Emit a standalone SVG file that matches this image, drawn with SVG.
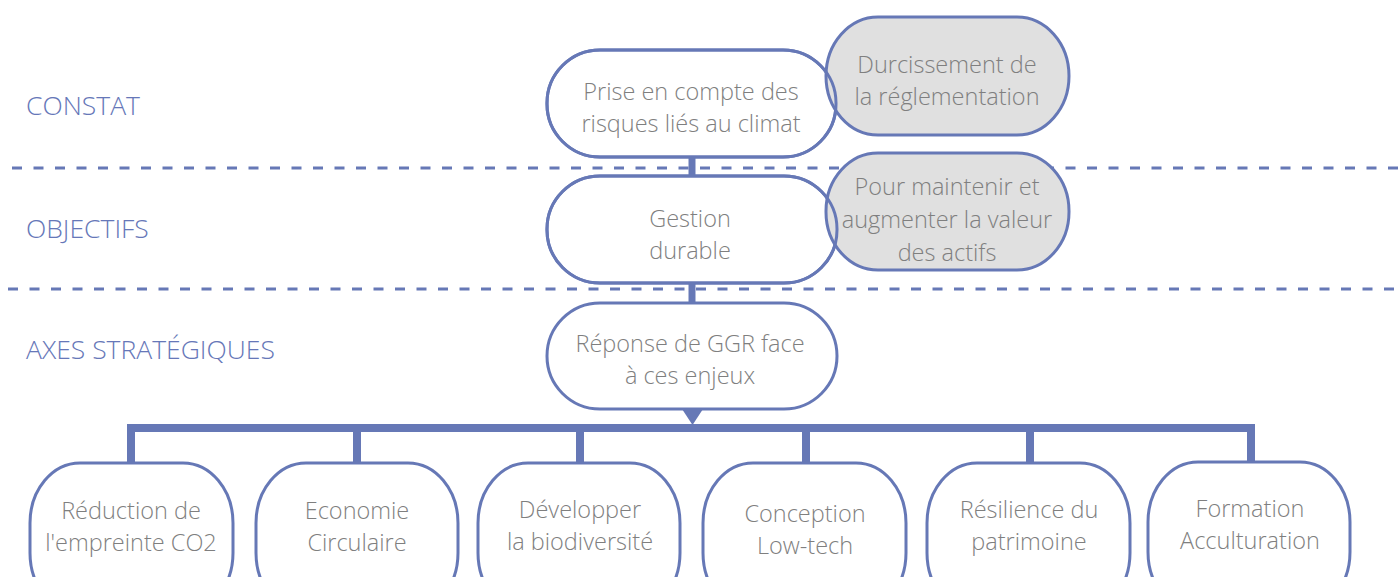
<svg xmlns="http://www.w3.org/2000/svg" width="1398" height="577" viewBox="0 0 1398 577">
<style>
.lbl{font-family:"Open Sans","Liberation Sans",sans-serif;font-weight:300;font-size:26.5px;fill:#6677B8}
.t{font-family:"Open Sans","Liberation Sans",sans-serif;font-weight:300;font-size:23.5px;fill:#7F7F7F;text-anchor:middle}
.node{fill:#FFFFFF;stroke:#6678B6;stroke-width:3}
.grey{fill:#E0E0E0;stroke:#6678B6;stroke-width:3}
.dash{stroke:#6678B6;stroke-width:3;stroke-dasharray:10 11.5;fill:none}
.conn{stroke:#6678B6;fill:none}
</style>
<g id="separators">
<line class="dash" x1="12" y1="168" x2="1398" y2="168"/>
<line class="dash" x1="8" y1="289" x2="1398" y2="289"/>
</g>
<g id="labels">
<text class="lbl" x="26" y="115">CONSTAT</text>
<text class="lbl" x="26" y="238">OBJECTIFS</text>
<text class="lbl" x="26" y="359">AXES STRATÉGIQUES</text>
</g>
<g id="connectors">
<line class="conn" stroke-width="7" x1="692" y1="155" x2="692" y2="178"/>
<line class="conn" stroke-width="7" x1="692" y1="281" x2="692" y2="304"/>
<polygon points="682,409 703,409 692.5,425" fill="#6678B6"/>
<polyline class="conn" stroke-width="8" points="131,464 131,428 1251,428 1251,464"/>
<line class="conn" stroke-width="8" x1="357" y1="428" x2="357" y2="464"/>
<line class="conn" stroke-width="8" x1="580" y1="428" x2="580" y2="464"/>
<line class="conn" stroke-width="8" x1="806" y1="428" x2="806" y2="464"/>
<line class="conn" stroke-width="8" x1="1030" y1="428" x2="1030" y2="464"/>
</g>
<g id="n-prise">
<rect class="node" x="547" y="50" width="289" height="107" rx="53" ry="53"/>
</g>
<g id="n-durcissement">
<rect class="grey" x="826" y="17" width="243" height="118" rx="52" ry="59"/>
<text class="t" x="947" y="73">Durcissement de</text>
<text class="t" x="947" y="105">la réglementation</text>
</g>
<g id="n-prise-text">
<rect x="547" y="50" width="289" height="107" rx="53" ry="53" fill="none" stroke="#6678B6" stroke-width="3"/>
<text class="t" x="691" y="100">Prise en compte des</text>
<text class="t" x="691" y="132">risques liés au climat</text>
</g>
<g id="n-gestion">
<rect class="node" x="547" y="176" width="290" height="107" rx="53" ry="53"/>
</g>
<g id="n-maintenir">
<rect class="grey" x="826" y="153" width="243" height="117" rx="52" ry="58"/>
<text class="t" x="947" y="195">Pour maintenir et</text>
<text class="t" x="947" y="228">augmenter la valeur</text>
<text class="t" x="947" y="261">des actifs</text>
</g>
<g id="n-gestion-text">
<rect x="547" y="176" width="290" height="107" rx="53" ry="53" fill="none" stroke="#6678B6" stroke-width="3"/>
<text class="t" x="690" y="227">Gestion</text>
<text class="t" x="690" y="259">durable</text>
</g>
<g id="n-reponse">
<rect class="node" x="547" y="303" width="290" height="106" rx="53" ry="53"/>
<text class="t" x="690" y="352">Réponse de GGR face</text>
<text class="t" x="690" y="384">à ces enjeux</text>
</g>
<g id="n-co2">
<rect class="node" x="30" y="463" width="203" height="150" rx="50" ry="60"/>
<text class="t" x="131" y="519">Réduction de</text>
<text class="t" x="131" y="551">l'empreinte CO2</text>
</g>
<g id="n-eco">
<rect class="node" x="256" y="463" width="202" height="150" rx="50" ry="60"/>
<text class="t" x="357" y="519">Economie</text>
<text class="t" x="357" y="551">Circulaire</text>
</g>
<g id="n-bio">
<rect class="node" x="478" y="463" width="202" height="150" rx="50" ry="60"/>
<text class="t" x="580" y="518">Développer</text>
<text class="t" x="580" y="550">la biodiversité</text>
</g>
<g id="n-lowtech">
<rect class="node" x="703" y="463" width="203" height="150" rx="50" ry="60"/>
<text class="t" x="805" y="522">Conception</text>
<text class="t" x="805" y="554">Low-tech</text>
</g>
<g id="n-resilience">
<rect class="node" x="927" y="463" width="203" height="150" rx="50" ry="60"/>
<text class="t" x="1029" y="518">Résilience du</text>
<text class="t" x="1029" y="550">patrimoine</text>
</g>
<g id="n-formation">
<rect class="node" x="1148" y="462" width="202" height="150" rx="50" ry="60"/>
<text class="t" x="1250" y="517">Formation</text>
<text class="t" x="1250" y="549">Acculturation</text>
</g>
</svg>
